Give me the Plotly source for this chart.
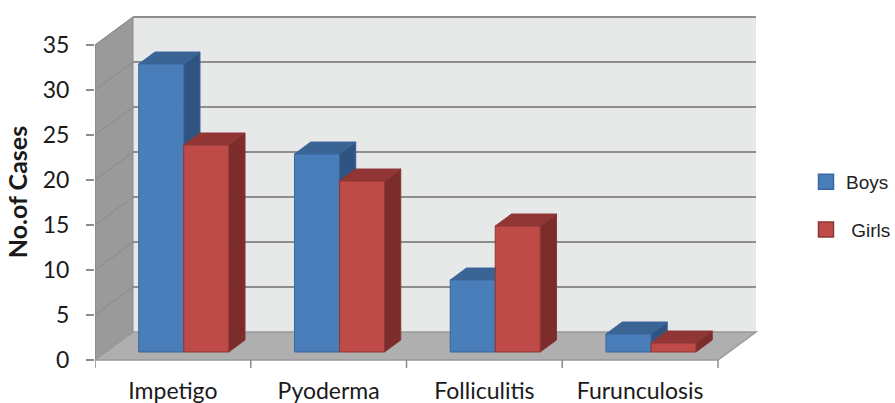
import plotly.graph_objects as go

# ---- data ----
categories = ["Impetigo", "Pyoderma", "Folliculitis", "Furunculosis"]
boys = [32, 22, 8, 2]
girls = [23, 19, 14, 1]
series_names = ["Boys", "Girls"]
y_ticks = [0, 5, 10, 15, 20, 25, 30, 35]

# ---- pseudo-3D geometry (axis units) ----
DEPTH_X = 0.244     # back plane shift to the right (category units)
DEPTH_Y = 3.11      # back plane shift upwards (value units)
BAR_FRONT = 0.286   # depth fraction of the bar front faces
BAR_BACK = 0.714    # depth fraction of the bar back faces
BAR_W = 0.289       # width of one bar (category units)
Y_MAX = 35
N = len(categories)

FACE = {
    "Boys": dict(front="#4a7ebb", side="#2f5481", top="#3a6494", edge="#3a669c"),
    "Girls": dict(front="#be4b48", side="#7b2c2b", top="#913634", edge="#8c3735"),
}


def bar_faces(values, offset):
    """Return polygons (front, side, top) for one series."""
    sx = BAR_FRONT * DEPTH_X
    sy = BAR_FRONT * DEPTH_Y
    ddx = (BAR_BACK - BAR_FRONT) * DEPTH_X
    ddy = (BAR_BACK - BAR_FRONT) * DEPTH_Y
    front, side, top = ([], []), ([], []), ([], [])
    for i, v in enumerate(values):
        x0 = i + 0.5 + sx + offset
        x1 = x0 + BAR_W
        y0 = sy
        y1 = sy + v
        polys = [
            (front, [x0, x1, x1, x0, x0], [y0, y0, y1, y1, y0]),
            (side, [x1, x1 + ddx, x1 + ddx, x1, x1], [y0, y0 + ddy, y1 + ddy, y1, y0]),
            (top, [x0, x1, x1 + ddx, x0 + ddx, x0], [y1, y1, y1 + ddy, y1 + ddy, y1]),
        ]
        for store, xs, ys in polys:
            store[0].extend(xs + [None])
            store[1].extend(ys + [None])
    return front, side, top


fig = go.Figure()

for name, vals, off in [("Boys", boys, -BAR_W), ("Girls", girls, 0.0)]:
    front, side, top = bar_faces(vals, off)
    c = FACE[name]
    for poly, col in [(side, c["side"]), (top, c["top"]), (front, c["front"])]:
        fig.add_trace(go.Scatter(
            x=poly[0], y=poly[1], mode="lines", fill="toself",
            fillcolor=col, line=dict(color=c["edge"], width=1),
            hoverinfo="skip", showlegend=False,
        ))

# legend entries
for name in series_names:
    c = FACE[name]
    fig.add_trace(go.Scatter(
        x=[None], y=[None], mode="markers", name=(" " + name if name == "Girls" else name),
        marker=dict(symbol="square", size=15, color=c["front"],
                    line=dict(color=c["edge"], width=1.5)),
        legendgroup=name,
    ))

# ---- walls, floor and gridlines ----
shapes = []
bx0, bx1 = DEPTH_X, N + DEPTH_X
by0, by1 = DEPTH_Y, Y_MAX + DEPTH_Y


def poly_path(pts):
    return "M " + " L ".join(f"{x},{y}" for x, y in pts) + " Z"


# back wall
shapes.append(dict(type="path", xref="x", yref="y", layer="below",
                   path=poly_path([(bx0, by0), (bx1, by0), (bx1, by1), (bx0, by1)]),
                   fillcolor="#e7e8e8", line=dict(width=0)))
# left wall
shapes.append(dict(type="path", xref="x", yref="y", layer="below",
                   path=poly_path([(0, 0), (0, Y_MAX), (bx0, by1), (bx0, by0)]),
                   fillcolor="#9a9a9a", line=dict(color="#8a8a8a", width=1)))
# floor
shapes.append(dict(type="path", xref="x", yref="y", layer="below",
                   path=poly_path([(0, 0), (N, 0), (bx1, by0), (bx0, by0)]),
                   fillcolor="#afafaf", line=dict(color="#999999", width=1.5)))
# gridlines on back and left walls
for t in y_ticks[1:]:
    shapes.append(dict(type="line", xref="x", yref="y", layer="below",
                       x0=bx0, x1=bx1, y0=t + DEPTH_Y, y1=t + DEPTH_Y,
                       line=dict(color="#8e8e8e", width=2)))
    shapes.append(dict(type="line", xref="x", yref="y", layer="below",
                       x0=0, x1=bx0, y0=t, y1=t + DEPTH_Y,
                       line=dict(color="#8a8a8a", width=1)))
# category boundary ticks below the floor edge
for k in range(N + 1):
    shapes.append(dict(type="line", xref="x", yref="y", layer="below",
                       x0=k, x1=k, y0=0, y1=-0.9,
                       line=dict(color="#8c8c8c", width=1.5)))
# front vertical edge of the left wall
shapes.append(dict(type="line", xref="x", yref="y", layer="below",
                   x0=0, x1=0, y0=0, y1=Y_MAX, line=dict(color="#8c8c8c", width=1.5)))

fig.update_layout(
    width=895, height=403,
    margin=dict(l=95, r=125, t=10, b=29, autoexpand=False),
    paper_bgcolor="white", plot_bgcolor="white",
    shapes=shapes,
    showlegend=True,
    legend=dict(x=806 / 895, xref="container", xanchor="left",
                y=0.489, yref="container", yanchor="middle",
                font=dict(family="Liberation Sans, Arial", size=19, color="#222222"),
                tracegroupgap=20, bgcolor="rgba(0,0,0,0)"),
    font=dict(family="Lato, Calibri, sans-serif", color="#1a1a1a"),
)

fig.update_xaxes(
    range=[0, 675 / 155.75],
    tickvals=[i + 0.5 for i in range(N)], ticktext=categories,
    ticks="", showgrid=False, zeroline=False, showline=False,
    tickfont=dict(size=23), fixedrange=True, automargin=False,
    ticklabelstandoff=1,
)
fig.update_yaxes(
    range=[(360 - 374) / 9, (360 - 10) / 9],
    tickvals=y_ticks, ticks="outside", ticklen=8, tickcolor="#8c8c8c", tickwidth=1.5,
    showgrid=False, zeroline=False, showline=False,
    tickfont=dict(size=23), ticklabelstandoff=12,
    title=dict(text="<b>No.of Cases</b>", font=dict(size=25), standoff=7),
    fixedrange=True, automargin=False,
)

fig.write_html("out.html")
